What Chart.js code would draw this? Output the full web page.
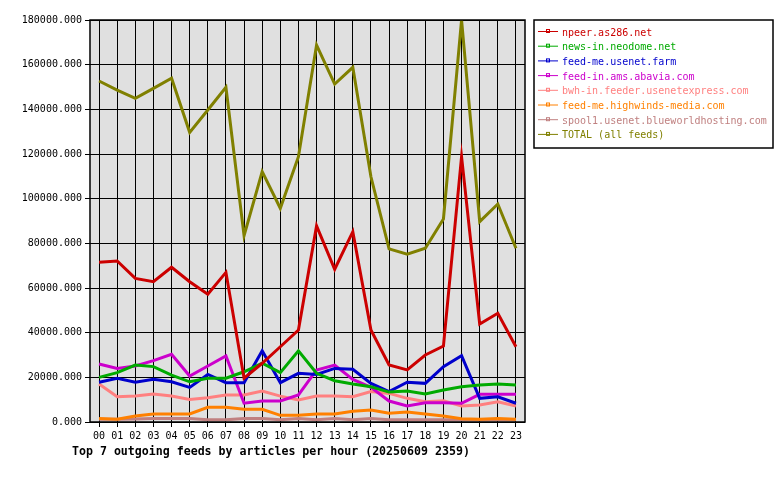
<!DOCTYPE html>
<html>
<head>
<meta charset="utf-8">
<script src="https://cdn.jsdelivr.net/npm/chart.js@4"></script>
<style>
  html, body { margin: 0; padding: 0; background: #fff; }
  #wrap { width: 780px; height: 480px; position: relative; }
</style>
</head>
<body>
<div id="wrap"><canvas id="feedsChart"></canvas></div>
<script>
// Hours of the day
const hours = ['00','01','02','03','04','05','06','07','08','09','10','11',
               '12','13','14','15','16','17','18','19','20','21','22','23'];

// Articles per hour, one array per feed
const npeer     = [71500, 72100, 64300, 62800, 69300, 62800, 57200, 67000, 19600, 26300, 33700, 41200,
                   87800, 68400, 85200, 41200, 25500, 23300, 30000, 34000, 118800, 43900, 48700, 33700];
const neodome   = [20000, 22100, 25500, 24800, 21000, 18000, 19600, 19600, 22500, 26300, 22100, 31900,
                   21800, 18500, 17000, 15800, 13400, 13900, 12500, 14300, 15800, 16600, 17000, 16600];
const usenetFarm= [17800, 19600, 17800, 19100, 18000, 15500, 21300, 17600, 17600, 31900, 17600, 21800,
                   21300, 24000, 23600, 17300, 13600, 17800, 17300, 24800, 29700, 10600, 11300, 8400];
const abavia    = [26000, 24000, 25100, 27500, 30300, 20600, 25100, 29600, 8400, 9400, 9400, 12100,
                   23300, 25500, 19100, 15500, 9400, 7200, 8600, 8600, 8400, 12400, 12400, 12400];
const bwhIn     = [17000, 11300, 11600, 12500, 11600, 10100, 10900, 12100, 12100, 13900, 11600, 9900,
                   11600, 11600, 11300, 13600, 12800, 10600, 9100, 9500, 7200, 7600, 9100, 7200];
const highwinds = [1600, 1200, 2700, 3600, 3600, 3600, 6600, 6600, 5700, 5700, 3000, 3000,
                   3600, 3600, 4800, 5400, 3900, 4500, 3600, 2700, 1500, 1200, 1600, 1200];
const spool1    = [1200, 1200, 1300, 1600, 1600, 1600, 1000, 1000, 1600, 1600, 1000, 1600,
                   1000, 1600, 1000, 1600, 1000, 1000, 1000, 1000, 1000, 1000, 1000, 1000];
const total     = [152700, 148600, 144900, 149400, 153900, 129700, 139700, 149900, 83400, 112100, 95700, 118800,
                   168800, 151300, 158800, 109800, 77500, 75100, 77800, 90900, 180000, 89700, 97600, 77800];

const feedNames  = ['npeer.as286.net', 'news-in.neodome.net', 'feed-me.usenet.farm', 'feed-in.ams.abavia.com',
                    'bwh-in.feeder.usenetexpress.com', 'feed-me.highwinds-media.com',
                    'spool1.usenet.blueworldhosting.com', 'TOTAL (all feeds)'];
const feedColors = ['#CC0000', '#00AA00', '#0000CC', '#CC00CC', '#FF8080', '#FF8000', '#C08080', '#808000'];
const feedValues = [npeer, neodome, usenetFarm, abavia, bwhIn, highwinds, spool1, total];

const yTicksMax = 180000;
const yTicksStep = 20000;
const titleText = 'Top 7 outgoing feeds by articles per hour (20250609 2359)';

Chart.defaults.font.family = '"DejaVu Sans Mono", monospace';
Chart.defaults.font.size = 10;
Chart.defaults.color = '#000';

// Grey plot background, black frame, legend box and caption
const framePlugin = {
    id: 'frame',
    beforeDraw(chart) {
        const { ctx, chartArea: a } = chart;
        ctx.save();
        ctx.fillStyle = '#E0E0E0';
        ctx.fillRect(a.left, a.top, a.right - a.left, a.bottom - a.top);
        ctx.restore();
    },
    afterDraw(chart) {
        const { ctx, chartArea: a } = chart;
        ctx.save();
        ctx.strokeStyle = '#000';
        ctx.lineWidth = 1.5;
        ctx.strokeRect(a.left, a.top, a.right - a.left, a.bottom - a.top);

        // legend
        const lx = 534, ly = 20, lw = 239, lh = 128;
        ctx.lineWidth = 1.5;
        ctx.strokeRect(lx, ly, lw, lh);
        ctx.font = '10px "DejaVu Sans Mono", monospace';
        ctx.textBaseline = 'middle';
        chart.data.datasets.forEach((ds, i) => {
            const y = 31 + i * 14.7;
            ctx.strokeStyle = ds.borderColor;
            ctx.lineWidth = 1;
            ctx.beginPath();
            ctx.moveTo(538, y + 0.5);
            ctx.lineTo(558, y + 0.5);
            ctx.stroke();
            ctx.strokeRect(546.5, y - 1.5, 3, 3);
            ctx.fillStyle = ds.borderColor;
            ctx.fillText(ds.label, 562, y + 2);
        });

        // caption
        ctx.fillStyle = '#000';
        ctx.font = 'bold 11.6px "DejaVu Sans Mono", monospace';
        ctx.textBaseline = 'middle';
        ctx.fillText(titleText, 72, 452);
        ctx.restore();
    }
};

const ctx = document.getElementById('feedsChart');
new Chart(ctx.getContext('2d'), {
    type: 'line',
    data: {
        labels: hours,
        datasets: feedValues.map((vals, i) => ({
            label: feedNames[i],
            data: vals,
            borderColor: feedColors[i],
            backgroundColor: feedColors[i],
            borderWidth: 3,
            pointRadius: 0,
            tension: 0,
            fill: false
        }))
    },
    options: {
        responsive: true,
        maintainAspectRatio: false,
        animation: false,
        layout: { padding: { top: 20, right: 255, bottom: 0, left: 0 } },
        plugins: {
            legend: { display: false },
            tooltip: { enabled: false }
        },
        scales: {
            x: {
                offset: true,
                grid: { offset: false, color: '#000', lineWidth: 1, tickLength: 5, drawOnChartArea: true },
                border: { display: false },
                ticks: { padding: 3, maxRotation: 0, autoSkip: false, font: { size: 10 } },
                afterFit(scale) { scale.height = 58; }
            },
            y: {
                min: 0,
                max: yTicksMax,
                grid: { color: '#000', lineWidth: 1, tickLength: 5 },
                border: { display: false },
                ticks: {
                    stepSize: yTicksStep,
                    padding: 3,
                    font: { size: 10 },
                    callback: v => v.toFixed(3)
                },
                afterFit(scale) { scale.width = 90; }
            }
        }
    },
    plugins: [framePlugin]
});
</script>
</body>
</html>
